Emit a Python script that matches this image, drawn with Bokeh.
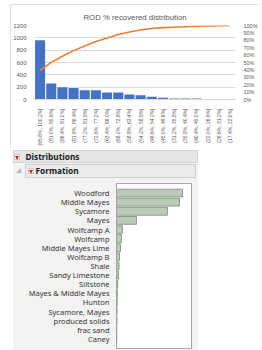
from math import pi
import numpy as np
from bokeh.plotting import figure
from bokeh.layouts import column, row
from bokeh.models import (Range1d, LinearAxis, FixedTicker, NumeralTickFormatter,
                          FactorRange, ColumnDataSource, Spacer, Div)
from bokeh.embed import file_html
from bokeh.resources import INLINE

# ---------------- data ----------------
bins = ["(95.6%, 100.2%]", "(91.0%, 95.6%]", "(86.4%, 91.0%]", "(81.8%, 86.4%]",
        "(77.2%, 81.8%]", "(72.6%, 77.2%]", "(63.4%, 68.0%]", "(68.0%, 72.6%]",
        "(58.8%, 63.4%]", "(54.2%, 58.8%]", "(49.6%, 54.2%]", "(45.0%, 49.6%]",
        "(31.2%, 35.8%]", "(35.8%, 40.4%]", "(40.4%, 45.0%]", "(22.0%, 26.6%]",
        "(26.6%, 31.2%]", "(17.4%, 22.0%]"]
counts = [960, 260, 200, 185, 150, 150, 115, 115, 80, 70, 45, 30, 15, 15, 15, 10, 10, 5]
left_ticks = [0, 200, 400, 600, 800, 1000, 1200]
right_ticks = [0, 0.1, 0.2, 0.3, 0.4, 0.5, 0.6, 0.7, 0.8, 0.9, 1.0]

formations = ["Woodford", "Middle Mayes", "Sycamore", "Mayes", "Wolfcamp A", "Wolfcamp",
              "Middle Mayes Lime", "Wolfcamp B", "Shale", "Sandy Limestone", "Siltstone",
              "Mayes & Middle Mayes", "Hunton", "Sycamore, Mayes", "produced solids",
              "frac sand", "Caney"]
formation_counts = [660, 630, 510, 200, 60, 50, 40, 30, 25, 20, 12, 8, 7, 5, 4, 3, 3]

# ---------------- top: pareto ----------------
cum = np.cumsum(counts) / np.sum(counts)
src = ColumnDataSource(dict(x=bins, y=counts, c=cum))

FONT = "Liberation Sans"
GRAY = "#595959"

p1 = figure(width=250, height=144, x_range=FactorRange(*bins), y_range=Range1d(0, 1200),
            output_backend="svg", toolbar_location=None,
            min_border_left=23, min_border_right=24, min_border_top=21, min_border_bottom=49,
            title="ROD % recovered distribution")
p1.styles = {"outline": "1px solid #d9d9d9", "outline-offset": "-1px"}
p1.title.align = "center"
p1.title.text_font = FONT
p1.title.text_font_size = "7.8px"
p1.title.text_font_style = "normal"
p1.title.text_color = GRAY
p1.title.offset = 0
p1.title.standoff = 7
p1.outline_line_color = None
p1.background_fill_color = "white"
p1.border_fill_color = "white"

p1.vbar(x="x", top="y", width=0.9, source=src, fill_color="#4472C4", line_color=None)

p1.extra_y_ranges = {"pct": Range1d(0, 1.0)}
p1.line(x="x", y="c", source=src, y_range_name="pct", line_color="#ED7D31", line_width=1.6)

ax_r = LinearAxis(y_range_name="pct", ticker=FixedTicker(ticks=right_ticks),
                  formatter=NumeralTickFormatter(format="0%"))
p1.add_layout(ax_r, "right")

for ax in [p1.yaxis[0], ax_r]:
    ax.axis_line_color = None
    ax.major_tick_line_color = None
    ax.minor_tick_line_color = None
    ax.major_label_text_font = FONT
    ax.major_label_text_color = GRAY
    ax.major_label_standoff = 2
p1.yaxis[0].major_label_text_font_size = "6px"
ax_r.major_label_text_font_size = "5.5px"
p1.yaxis[0].ticker = FixedTicker(ticks=left_ticks)

p1.xaxis.major_label_orientation = pi / 2
p1.xaxis.major_label_text_font = FONT
p1.xaxis.major_label_text_font_size = "5px"
p1.xaxis.major_label_text_color = GRAY
p1.xaxis.axis_line_color = "#d9d9d9"
p1.xaxis.major_tick_line_color = None
p1.xaxis.major_label_standoff = 3
p1.xgrid.grid_line_color = None
p1.ygrid.grid_line_color = "#d9d9d9"
p1.ygrid.ticker = FixedTicker(ticks=left_ticks)

# ---------------- middle: JMP headers (HTML, not a plot) ----------------
PANEL = "#f3f3f3"
icon = ("position:absolute;left:{l}px;top:{t}px;width:6px;height:6px;box-sizing:border-box;"
        "background:#fff;border:1px solid #cccccc;")
tri = ("position:absolute;left:{l}px;top:{t}px;width:0;height:0;"
       "border-left:2.5px solid transparent;border-right:2.5px solid transparent;"
       "border-top:4px solid #d81e1e;")
txt = ("position:absolute;left:{l}px;top:{t}px;height:{h}px;line-height:{h}px;"
       "font-family:'Noto Sans';font-weight:bold;font-size:8.3px;color:#1a1a1a;"
       "white-space:nowrap;")
header_html = (
    '<div style="position:relative;width:260px;height:30px;background:#fff;overflow:hidden;">'
    '<div style="position:absolute;left:13px;top:0;width:185px;height:30px;background:%s;"></div>'
    '<div style="position:absolute;left:13px;top:0;width:185px;height:13px;box-sizing:border-box;'
    'background:#e6e6e6;border:1px solid #d6d6d6;"></div>'
    '<div style="position:absolute;left:25px;top:14px;width:171px;height:14px;box-sizing:border-box;'
    'background:#ebebeb;border:1px solid #cfcfcf;"></div>'
    '<div style="position:absolute;left:16px;top:18px;width:0;height:0;'
    'border-left:5px solid transparent;border-bottom:5px solid #b4b4b4;"></div>'
    '<div style="%s"></div><div style="%s"></div>'
    '<div style="%s"></div><div style="%s"></div>'
    '<div style="%s">Distributions</div>'
    '<div style="%s">Formation</div>'
    '</div>'
) % (PANEL,
     icon.format(l=14, t=3.5), tri.format(l=14.5, t=5.5),
     icon.format(l=28, t=18), tri.format(l=28.5, t=20),
     txt.format(l=25.5, t=0, h=13), txt.format(l=35.5, t=14, h=14))
ph = Div(text=header_html, width=260, height=30,
         styles={"margin": "0", "padding": "0"})

# ---------------- bottom: JMP bar chart ----------------
p2 = figure(width=260, height=170,
            y_range=FactorRange(*formations[::-1], range_padding=0.55,
                                range_padding_units="absolute"),
            x_range=Range1d(0, 750), output_backend="svg", toolbar_location=None,
            min_border_left=116, min_border_right=69, min_border_top=3, min_border_bottom=2)
p2.max_width = 260
p2.min_width = 260
p2.border_fill_alpha = 0
p2.styles = {"background": "linear-gradient(to right, #ffffff 0px, #ffffff 13px, "
                           "%s 13px, %s 198px, #ffffff 198px)" % (PANEL, PANEL)}
p2.background_fill_color = "white"
p2.outline_line_color = "#a6a6a6"
p2.hbar(y=formations, right=formation_counts, left=0, height=0.85,
        fill_color="#b9cbb6", line_color="#8d9e8a", line_width=1)
p2.xaxis.visible = False
p2.grid.visible = False
p2.yaxis.axis_line_color = None
p2.yaxis.major_tick_line_color = None
p2.yaxis.minor_tick_line_color = None
p2.yaxis.major_label_standoff = 1
p2.yaxis.major_label_text_font = "Noto Sans"
p2.yaxis.major_label_text_font_size = "7.5px"
p2.yaxis.major_label_text_color = "#333333"

layout = column(Spacer(width=10, height=4),
                row(Spacer(width=10, height=144), p1, spacing=0),
                Spacer(width=10, height=2),
                ph,
                p2,
                spacing=0)
open("out.html", "w").write(file_html(layout, INLINE))
